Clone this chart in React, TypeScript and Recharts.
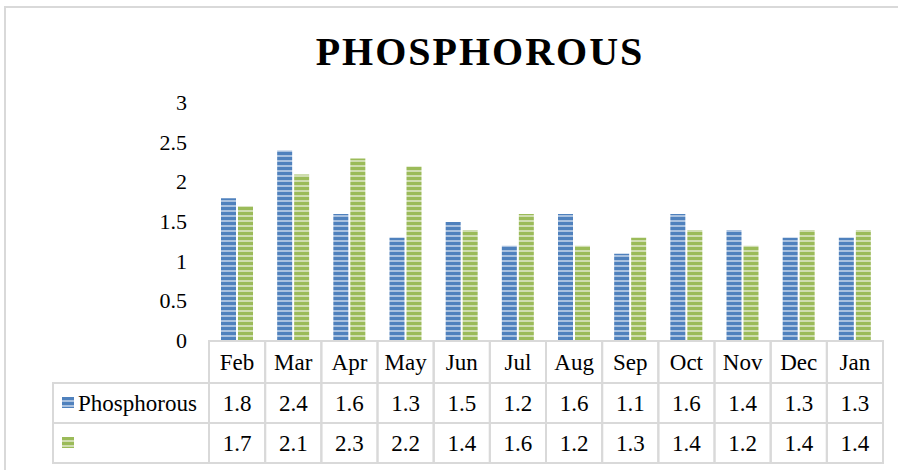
import { BarChart, Bar, XAxis, YAxis } from "recharts"

// monthly phosphorous readings, two series (second one has no name in the source)
const months = ["Feb", "Mar", "Apr", "May", "Jun", "Jul", "Aug", "Sep", "Oct", "Nov", "Dec", "Jan"]
const phosphorous = [1.8, 2.4, 1.6, 1.3, 1.5, 1.2, 1.6, 1.1, 1.6, 1.4, 1.3, 1.3]
const second = [1.7, 2.1, 2.3, 2.2, 1.4, 1.6, 1.2, 1.3, 1.4, 1.2, 1.4, 1.4]
const yTicks = [0, 0.5, 1, 1.5, 2, 2.5, 3]

const data = months.map((m, i) => ({ month: m, phosphorous: phosphorous[i], second: second[i] }))

const FONT = '"Liberation Serif", "Times New Roman", serif'
const GRID = "#d9d9d9"
const CELL_W = 674 / 12

function YTick(props: any) {
  const { x, y, payload } = props
  return (
    <text x={x} y={y + 7} textAnchor="end" fontSize={22} fontFamily={FONT} fill="#000">
      {payload.value}
    </text>
  )
}

function TableTick(props: any) {
  const { x, y, payload, index } = props
  const left = x - CELL_W / 2
  const rowH = 40
  return (
    <g>
      <rect x={left} y={y} width={CELL_W} height={rowH * 3 + 2} fill="none" stroke={GRID} strokeWidth={2} />
      <line x1={left} x2={left + CELL_W} y1={y + 42} y2={y + 42} stroke={GRID} strokeWidth={2} />
      <line x1={left} x2={left + CELL_W} y1={y + 82} y2={y + 82} stroke={GRID} strokeWidth={2} />
      <text x={x} y={y + 29} textAnchor="middle" fontSize={23} fontFamily={FONT} fill="#000">
        {payload.value}
      </text>
      <text x={x} y={y + 70} textAnchor="middle" fontSize={23} fontFamily={FONT} fill="#000">
        {phosphorous[index]}
      </text>
      <text x={x} y={y + 110} textAnchor="middle" fontSize={23} fontFamily={FONT} fill="#000">
        {second[index]}
      </text>
      {index === 0 && (
        <g>
          <rect x={53} y={y + 42} width={left - 53} height={80} fill="none" stroke={GRID} strokeWidth={2} />
          <line x1={53} x2={left} y1={y + 82} y2={y + 82} stroke={GRID} strokeWidth={2} />
          <rect x={62} y={y + 56} width={12} height={11} fill="url(#stripeBlue)" />
          <text x={78} y={y + 70} fontSize={23} fontFamily={FONT} fill="#000">
            Phosphorous
          </text>
          <rect x={62} y={y + 96} width={12} height={11} fill="url(#stripeGreen)" />
        </g>
      )}
    </g>
  )
}

export default function App() {
  return (
    <div style={{ position: "absolute", left: 0, top: 0, width: 898, height: 470, overflow: "hidden", background: "#fff" }}>
      <div
        style={{
          position: "absolute",
          left: 4,
          top: 6,
          width: 960,
          height: 520,
          border: `2px solid ${GRID}`,
        }}
      />
      <div
        style={{
          position: "absolute",
          left: 0,
          top: 30,
          width: 960,
          textAlign: "center",
          fontFamily: FONT,
          fontWeight: "bold",
          fontSize: 40,
          letterSpacing: 2,
          lineHeight: "44px",
          color: "#000",
        }}
      >
        PHOSPHOROUS
      </div>
      <div style={{ position: "absolute", left: 0, top: 0 }}>
        <BarChart
          width={898}
          height={470}
          data={data}
          margin={{ top: 103, right: 15, left: 0, bottom: 9 }}
          barCategoryGap="21%"
          barGap={2}
        >
          <defs>
            <pattern id="stripeBlue" patternUnits="userSpaceOnUse" width={4} height={5}>
              <rect x={0} y={0} width={4} height={5} fill="#a9c1df" />
              <rect x={0} y={2} width={4} height={3} fill="#4f81bd" />
            </pattern>
            <pattern id="stripeGreen" patternUnits="userSpaceOnUse" width={4} height={5}>
              <rect x={0} y={0} width={4} height={5} fill="#cfddb0" />
              <rect x={0} y={2} width={4} height={3} fill="#9bbb59" />
            </pattern>
          </defs>
          <XAxis
            dataKey="month"
            height={120}
            tickLine={false}
            tickSize={0}
            tickMargin={0}
            axisLine={{ stroke: GRID, strokeWidth: 2 }}
            tick={<TableTick />}
            interval={0}
          />
          <YAxis
            width={209}
            domain={[0, 3]}
            ticks={yTicks}
            axisLine={false}
            tickLine={false}
            tickMargin={16}
            tick={<YTick />}
          />
          <Bar dataKey="phosphorous" barSize={15} fill="url(#stripeBlue)" isAnimationActive={false} />
          <Bar dataKey="second" barSize={15} fill="url(#stripeGreen)" isAnimationActive={false} />
        </BarChart>
      </div>
    </div>
  )
}
